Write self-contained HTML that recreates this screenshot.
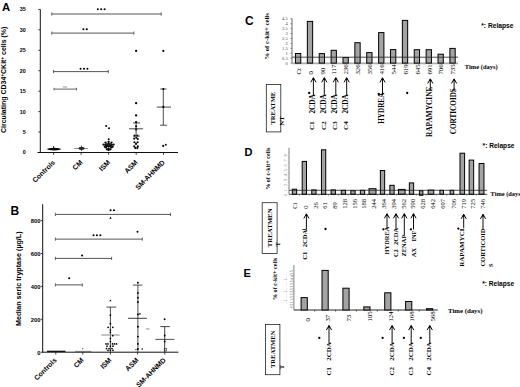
<!DOCTYPE html>
<html><head><meta charset="utf-8"><style>
html,body{margin:0;padding:0;background:#fff;width:520px;height:387px;overflow:hidden}
svg{display:block}
</style></head><body>
<svg width="520" height="387" viewBox="0 0 520 387">
<rect width="520" height="387" fill="#fff"/>
<text x="2.10" y="10.50" font-family='"Liberation Sans", sans-serif' font-size="11.3" font-weight="bold" text-anchor="start" fill="#000">A</text>
<line x1="40.30" y1="9.40" x2="40.30" y2="153.00" stroke="#111" stroke-width="1"/>
<line x1="37.50" y1="152.50" x2="178.00" y2="152.50" stroke="#111" stroke-width="1.2"/>
<line x1="38.30" y1="152.50" x2="40.30" y2="152.50" stroke="#111" stroke-width="0.8"/>
<text x="25.70" y="154.40" font-family='"Liberation Sans", sans-serif' font-size="5.4" font-weight="bold" text-anchor="end" fill="#000">0</text>
<line x1="38.30" y1="132.06" x2="40.30" y2="132.06" stroke="#111" stroke-width="0.8"/>
<text x="25.70" y="133.96" font-family='"Liberation Sans", sans-serif' font-size="5.4" font-weight="bold" text-anchor="end" fill="#000">5</text>
<line x1="38.30" y1="111.61" x2="40.30" y2="111.61" stroke="#111" stroke-width="0.8"/>
<text x="25.70" y="113.51" font-family='"Liberation Sans", sans-serif' font-size="5.4" font-weight="bold" text-anchor="end" fill="#000">10</text>
<line x1="38.30" y1="91.17" x2="40.30" y2="91.17" stroke="#111" stroke-width="0.8"/>
<text x="25.70" y="93.07" font-family='"Liberation Sans", sans-serif' font-size="5.4" font-weight="bold" text-anchor="end" fill="#000">15</text>
<line x1="38.30" y1="70.73" x2="40.30" y2="70.73" stroke="#111" stroke-width="0.8"/>
<text x="25.70" y="72.63" font-family='"Liberation Sans", sans-serif' font-size="5.4" font-weight="bold" text-anchor="end" fill="#000">20</text>
<line x1="38.30" y1="50.29" x2="40.30" y2="50.29" stroke="#111" stroke-width="0.8"/>
<text x="25.70" y="52.19" font-family='"Liberation Sans", sans-serif' font-size="5.4" font-weight="bold" text-anchor="end" fill="#000">25</text>
<line x1="38.30" y1="29.84" x2="40.30" y2="29.84" stroke="#111" stroke-width="0.8"/>
<text x="25.70" y="31.74" font-family='"Liberation Sans", sans-serif' font-size="5.4" font-weight="bold" text-anchor="end" fill="#000">30</text>
<line x1="38.30" y1="9.40" x2="40.30" y2="9.40" stroke="#111" stroke-width="0.8"/>
<text x="25.70" y="11.30" font-family='"Liberation Sans", sans-serif' font-size="5.4" font-weight="bold" text-anchor="end" fill="#000">35</text>
<line x1="53.60" y1="152.50" x2="53.60" y2="154.80" stroke="#111" stroke-width="0.8"/>
<line x1="81.10" y1="152.50" x2="81.10" y2="154.80" stroke="#111" stroke-width="0.8"/>
<line x1="108.60" y1="152.50" x2="108.60" y2="154.80" stroke="#111" stroke-width="0.8"/>
<line x1="136.20" y1="152.50" x2="136.20" y2="154.80" stroke="#111" stroke-width="0.8"/>
<line x1="163.50" y1="152.50" x2="163.50" y2="154.80" stroke="#111" stroke-width="0.8"/>
<text x="55.50" y="162.90" font-family='"Liberation Sans", sans-serif' font-size="6.95" font-weight="bold" text-anchor="end" fill="#000" transform="rotate(-45 55.50 162.90)">Controls</text>
<text x="83.00" y="162.90" font-family='"Liberation Sans", sans-serif' font-size="6.95" font-weight="bold" text-anchor="end" fill="#000" transform="rotate(-45 83.00 162.90)">CM</text>
<text x="110.50" y="162.90" font-family='"Liberation Sans", sans-serif' font-size="6.95" font-weight="bold" text-anchor="end" fill="#000" transform="rotate(-45 110.50 162.90)">ISM</text>
<text x="138.10" y="162.90" font-family='"Liberation Sans", sans-serif' font-size="6.95" font-weight="bold" text-anchor="end" fill="#000" transform="rotate(-45 138.10 162.90)">ASM</text>
<text x="165.40" y="162.90" font-family='"Liberation Sans", sans-serif' font-size="6.95" font-weight="bold" text-anchor="end" fill="#000" transform="rotate(-45 165.40 162.90)">SM-AHNMD</text>
<text x="6.40" y="133.00" font-family='"Liberation Sans", sans-serif' font-size="7.0" font-weight="bold" text-anchor="start" fill="#000" transform="rotate(-90 6.40 133.00)">Circulating CD34<tspan dy="-2" font-size="4.5">+</tspan><tspan dy="2">CKit</tspan><tspan dy="-2" font-size="4.5">+</tspan><tspan dy="2"> cells (%)</tspan></text>
<line x1="51.80" y1="14.00" x2="161.20" y2="14.00" stroke="#555" stroke-width="1.0"/>
<line x1="51.80" y1="12.40" x2="51.80" y2="15.60" stroke="#555" stroke-width="0.9"/>
<line x1="161.20" y1="12.40" x2="161.20" y2="15.60" stroke="#555" stroke-width="0.9"/>
<circle cx="97.80" cy="9.20" r="1.05" fill="#000"/>
<circle cx="101.20" cy="9.20" r="1.05" fill="#000"/>
<circle cx="104.60" cy="9.20" r="1.05" fill="#000"/>
<line x1="51.80" y1="33.10" x2="133.90" y2="33.10" stroke="#555" stroke-width="1.0"/>
<line x1="51.80" y1="31.50" x2="51.80" y2="34.70" stroke="#555" stroke-width="0.9"/>
<line x1="133.90" y1="31.50" x2="133.90" y2="34.70" stroke="#555" stroke-width="0.9"/>
<circle cx="83.40" cy="29.20" r="1.05" fill="#000"/>
<circle cx="86.80" cy="29.20" r="1.05" fill="#000"/>
<line x1="53.50" y1="71.60" x2="108.30" y2="71.60" stroke="#555" stroke-width="1.0"/>
<line x1="53.50" y1="70.00" x2="53.50" y2="73.20" stroke="#555" stroke-width="0.9"/>
<line x1="108.30" y1="70.00" x2="108.30" y2="73.20" stroke="#555" stroke-width="0.9"/>
<circle cx="80.60" cy="68.70" r="1.05" fill="#000"/>
<circle cx="84.00" cy="68.70" r="1.05" fill="#000"/>
<circle cx="87.40" cy="68.70" r="1.05" fill="#000"/>
<line x1="54.00" y1="89.10" x2="76.50" y2="89.10" stroke="#555" stroke-width="0.9"/>
<line x1="54.00" y1="87.80" x2="54.00" y2="90.40" stroke="#555" stroke-width="0.9"/>
<line x1="76.50" y1="87.80" x2="76.50" y2="90.40" stroke="#555" stroke-width="0.9"/>
<text x="65.00" y="88.20" font-family='"Liberation Sans", sans-serif' font-size="3.6" font-weight="normal" text-anchor="middle" fill="#666">ns</text>
<ellipse cx="54" cy="149.1" rx="7.0" ry="1.35" fill="#000"/>
<line x1="53.60" y1="146.00" x2="53.60" y2="150.00" stroke="#000" stroke-width="0.9"/>
<line x1="74.00" y1="148.50" x2="87.90" y2="148.50" stroke="#777" stroke-width="0.8"/>
<ellipse cx="81.5" cy="148.3" rx="3" ry="1.6" fill="#222"/>
<line x1="81.50" y1="145.60" x2="81.50" y2="151.00" stroke="#333" stroke-width="0.8"/>
<circle cx="106.20" cy="126.00" r="1.0" fill="#000"/>
<circle cx="109.00" cy="128.20" r="1.0" fill="#000"/>
<circle cx="108.70" cy="139.30" r="1.0" fill="#000"/>
<ellipse cx="108.6" cy="145.0" rx="4.2" ry="2.0" fill="#111"/>
<circle cx="103.60" cy="144.60" r="1.15" fill="#000"/>
<circle cx="113.60" cy="144.60" r="1.15" fill="#000"/>
<circle cx="105.50" cy="142.60" r="1.15" fill="#000"/>
<circle cx="111.50" cy="142.60" r="1.15" fill="#000"/>
<circle cx="108.60" cy="142.00" r="1.15" fill="#000"/>
<circle cx="106.00" cy="147.40" r="1.15" fill="#000"/>
<circle cx="111.20" cy="147.40" r="1.15" fill="#000"/>
<circle cx="108.60" cy="148.40" r="1.15" fill="#000"/>
<circle cx="104.80" cy="146.80" r="1.15" fill="#000"/>
<circle cx="112.60" cy="146.80" r="1.15" fill="#000"/>
<circle cx="108.60" cy="150.00" r="1.15" fill="#000"/>
<circle cx="107.00" cy="149.30" r="1.15" fill="#000"/>
<circle cx="110.40" cy="149.30" r="1.15" fill="#000"/>
<line x1="102.60" y1="144.60" x2="114.20" y2="144.60" stroke="#222" stroke-width="0.8"/>
<circle cx="136.10" cy="50.90" r="1.15" fill="#000"/>
<circle cx="136.10" cy="103.20" r="1.15" fill="#000"/>
<circle cx="136.10" cy="115.40" r="1.15" fill="#000"/>
<circle cx="136.10" cy="122.20" r="1.15" fill="#000"/>
<circle cx="136.10" cy="126.30" r="1.15" fill="#000"/>
<circle cx="136.10" cy="129.40" r="1.15" fill="#000"/>
<circle cx="134.60" cy="135.60" r="1.05" fill="#000"/>
<circle cx="137.40" cy="135.60" r="1.05" fill="#000"/>
<circle cx="136.30" cy="137.80" r="1.05" fill="#000"/>
<circle cx="134.20" cy="138.60" r="1.05" fill="#000"/>
<circle cx="137.80" cy="139.00" r="1.05" fill="#000"/>
<circle cx="134.40" cy="142.20" r="1.05" fill="#000"/>
<circle cx="137.60" cy="142.20" r="1.05" fill="#000"/>
<circle cx="136.00" cy="143.90" r="1.05" fill="#000"/>
<circle cx="134.30" cy="146.40" r="1.05" fill="#000"/>
<circle cx="137.80" cy="146.40" r="1.05" fill="#000"/>
<circle cx="135.30" cy="148.10" r="1.05" fill="#000"/>
<circle cx="137.30" cy="148.10" r="1.05" fill="#000"/>
<line x1="129.10" y1="128.80" x2="143.10" y2="128.80" stroke="#222" stroke-width="0.85"/>
<line x1="136.10" y1="122.90" x2="136.10" y2="136.10" stroke="#222" stroke-width="0.8"/>
<line x1="133.00" y1="122.90" x2="140.00" y2="122.90" stroke="#222" stroke-width="0.8"/>
<line x1="133.00" y1="136.10" x2="140.00" y2="136.10" stroke="#222" stroke-width="0.8"/>
<circle cx="163.30" cy="50.90" r="1.1" fill="#000"/>
<line x1="163.30" y1="89.00" x2="163.30" y2="125.20" stroke="#222" stroke-width="0.8"/>
<line x1="160.30" y1="89.00" x2="166.50" y2="89.00" stroke="#222" stroke-width="0.8"/>
<line x1="160.10" y1="125.20" x2="167.10" y2="125.20" stroke="#222" stroke-width="0.8"/>
<line x1="156.70" y1="107.10" x2="171.00" y2="107.10" stroke="#222" stroke-width="0.8"/>
<circle cx="163.30" cy="106.90" r="1.1" fill="#000"/>
<circle cx="163.30" cy="89.00" r="1.0" fill="#000"/>
<circle cx="163.20" cy="145.90" r="1.05" fill="#000"/>
<circle cx="165.80" cy="144.80" r="0.95" fill="#000"/>
<text x="10.40" y="214.80" font-family='"Liberation Sans", sans-serif' font-size="12" font-weight="bold" text-anchor="start" fill="#000">B</text>
<line x1="42.70" y1="204.20" x2="42.70" y2="352.70" stroke="#111" stroke-width="1"/>
<line x1="42.20" y1="352.20" x2="178.40" y2="352.20" stroke="#111" stroke-width="1"/>
<line x1="40.70" y1="352.20" x2="42.70" y2="352.20" stroke="#111" stroke-width="0.8"/>
<text x="40.50" y="354.50" font-family='"Liberation Sans", sans-serif' font-size="5.8" font-weight="bold" text-anchor="end" fill="#000">0</text>
<line x1="40.70" y1="319.30" x2="42.70" y2="319.30" stroke="#111" stroke-width="0.8"/>
<text x="40.50" y="321.60" font-family='"Liberation Sans", sans-serif' font-size="5.8" font-weight="bold" text-anchor="end" fill="#000">200</text>
<line x1="40.70" y1="286.40" x2="42.70" y2="286.40" stroke="#111" stroke-width="0.8"/>
<text x="40.50" y="288.70" font-family='"Liberation Sans", sans-serif' font-size="5.8" font-weight="bold" text-anchor="end" fill="#000">400</text>
<line x1="40.70" y1="253.50" x2="42.70" y2="253.50" stroke="#111" stroke-width="0.8"/>
<text x="40.50" y="255.80" font-family='"Liberation Sans", sans-serif' font-size="5.8" font-weight="bold" text-anchor="end" fill="#000">600</text>
<line x1="40.70" y1="220.60" x2="42.70" y2="220.60" stroke="#111" stroke-width="0.8"/>
<text x="40.50" y="222.90" font-family='"Liberation Sans", sans-serif' font-size="5.8" font-weight="bold" text-anchor="end" fill="#000">800</text>
<line x1="55.80" y1="352.20" x2="55.80" y2="354.50" stroke="#111" stroke-width="0.8"/>
<line x1="82.80" y1="352.20" x2="82.80" y2="354.50" stroke="#111" stroke-width="0.8"/>
<line x1="110.50" y1="352.20" x2="110.50" y2="354.50" stroke="#111" stroke-width="0.8"/>
<line x1="137.60" y1="352.20" x2="137.60" y2="354.50" stroke="#111" stroke-width="0.8"/>
<line x1="164.80" y1="352.20" x2="164.80" y2="354.50" stroke="#111" stroke-width="0.8"/>
<text x="57.20" y="360.60" font-family='"Liberation Sans", sans-serif' font-size="6.95" font-weight="bold" text-anchor="end" fill="#000" transform="rotate(-45 57.20 360.60)">Controls</text>
<text x="84.20" y="360.60" font-family='"Liberation Sans", sans-serif' font-size="6.95" font-weight="bold" text-anchor="end" fill="#000" transform="rotate(-45 84.20 360.60)">CM</text>
<text x="111.90" y="360.60" font-family='"Liberation Sans", sans-serif' font-size="6.95" font-weight="bold" text-anchor="end" fill="#000" transform="rotate(-45 111.90 360.60)">ISM</text>
<text x="139.00" y="360.60" font-family='"Liberation Sans", sans-serif' font-size="6.95" font-weight="bold" text-anchor="end" fill="#000" transform="rotate(-45 139.00 360.60)">ASM</text>
<text x="166.20" y="360.60" font-family='"Liberation Sans", sans-serif' font-size="6.95" font-weight="bold" text-anchor="end" fill="#000" transform="rotate(-45 166.20 360.60)">SM-AHNMD</text>
<text x="21.30" y="326.00" font-family='"Liberation Sans", sans-serif' font-size="7.15" font-weight="bold" text-anchor="start" fill="#000" transform="rotate(-90 21.30 326.00)">Median seric tryptase (µg/L)</text>
<line x1="55.40" y1="214.40" x2="170.50" y2="214.40" stroke="#555" stroke-width="1.0"/>
<line x1="55.40" y1="212.80" x2="55.40" y2="216.00" stroke="#555" stroke-width="0.9"/>
<line x1="170.50" y1="212.80" x2="170.50" y2="216.00" stroke="#555" stroke-width="0.9"/>
<circle cx="110.55" cy="210.30" r="1.05" fill="#000"/>
<circle cx="113.95" cy="210.30" r="1.05" fill="#000"/>
<line x1="55.40" y1="239.10" x2="142.30" y2="239.10" stroke="#555" stroke-width="1.0"/>
<line x1="55.40" y1="237.50" x2="55.40" y2="240.70" stroke="#555" stroke-width="0.9"/>
<line x1="142.30" y1="237.50" x2="142.30" y2="240.70" stroke="#555" stroke-width="0.9"/>
<circle cx="93.55" cy="235.20" r="1.05" fill="#000"/>
<circle cx="96.95" cy="235.20" r="1.05" fill="#000"/>
<circle cx="100.35" cy="235.20" r="1.05" fill="#000"/>
<line x1="55.40" y1="258.40" x2="111.60" y2="258.40" stroke="#555" stroke-width="1.0"/>
<line x1="55.40" y1="256.80" x2="55.40" y2="260.00" stroke="#555" stroke-width="0.9"/>
<line x1="111.60" y1="256.80" x2="111.60" y2="260.00" stroke="#555" stroke-width="0.9"/>
<circle cx="82.10" cy="255.50" r="1.05" fill="#000"/>
<line x1="55.40" y1="284.90" x2="82.30" y2="284.90" stroke="#555" stroke-width="1.0"/>
<line x1="55.40" y1="283.30" x2="55.40" y2="286.50" stroke="#555" stroke-width="0.9"/>
<line x1="82.30" y1="283.30" x2="82.30" y2="286.50" stroke="#555" stroke-width="0.9"/>
<circle cx="69.20" cy="278.20" r="1.05" fill="#000"/>
<path d="M109.4,218.7 L110.5,216.6 L111.6,218.7 Z" fill="#000"/>
<circle cx="137.50" cy="231.80" r="1.0" fill="#000"/>
<line x1="47.00" y1="351.30" x2="65.40" y2="351.30" stroke="#000" stroke-width="1.2"/>
<line x1="75.00" y1="351.40" x2="91.30" y2="351.40" stroke="#666" stroke-width="0.9"/>
<circle cx="82.70" cy="348.80" r="0.7" fill="#666"/>
<path d="M109.30,301.3 L110.40,299.4 L111.50,301.3 Z" fill="#000"/>
<line x1="110.40" y1="307.10" x2="110.40" y2="352.00" stroke="#222" stroke-width="0.8"/>
<line x1="106.50" y1="307.10" x2="116.30" y2="307.10" stroke="#222" stroke-width="0.8"/>
<line x1="101.40" y1="335.00" x2="119.70" y2="335.00" stroke="#888" stroke-width="1.0"/>
<circle cx="110.40" cy="315.20" r="0.85" fill="#000"/>
<circle cx="110.40" cy="323.70" r="0.85" fill="#000"/>
<circle cx="108.10" cy="327.30" r="0.85" fill="#000"/>
<circle cx="112.80" cy="327.30" r="0.85" fill="#000"/>
<circle cx="110.40" cy="330.00" r="0.85" fill="#000"/>
<circle cx="110.40" cy="332.30" r="0.85" fill="#000"/>
<circle cx="112.80" cy="335.70" r="0.85" fill="#000"/>
<circle cx="110.40" cy="338.50" r="0.85" fill="#000"/>
<circle cx="110.40" cy="341.60" r="0.85" fill="#000"/>
<circle cx="106.00" cy="343.90" r="0.85" fill="#000"/>
<circle cx="108.00" cy="343.90" r="0.85" fill="#000"/>
<circle cx="112.50" cy="343.90" r="0.85" fill="#000"/>
<circle cx="114.50" cy="343.90" r="0.85" fill="#000"/>
<circle cx="116.50" cy="343.90" r="0.85" fill="#000"/>
<circle cx="107.00" cy="346.20" r="0.85" fill="#000"/>
<circle cx="110.40" cy="346.20" r="0.85" fill="#000"/>
<circle cx="113.00" cy="346.20" r="0.85" fill="#000"/>
<circle cx="106.50" cy="348.60" r="0.85" fill="#000"/>
<circle cx="109.00" cy="348.60" r="0.85" fill="#000"/>
<circle cx="112.00" cy="348.60" r="0.85" fill="#000"/>
<circle cx="108.00" cy="350.30" r="0.85" fill="#000"/>
<circle cx="110.40" cy="350.30" r="0.85" fill="#000"/>
<circle cx="113.00" cy="350.30" r="0.85" fill="#000"/>
<line x1="137.90" y1="285.10" x2="137.90" y2="352.00" stroke="#222" stroke-width="0.8"/>
<line x1="132.90" y1="285.10" x2="142.30" y2="285.10" stroke="#222" stroke-width="0.8"/>
<line x1="128.00" y1="318.30" x2="146.90" y2="318.30" stroke="#222" stroke-width="0.9"/>
<circle cx="137.90" cy="282.70" r="0.95" fill="#000"/>
<circle cx="137.90" cy="292.90" r="0.95" fill="#000"/>
<circle cx="137.90" cy="297.80" r="0.95" fill="#000"/>
<circle cx="137.90" cy="302.00" r="0.95" fill="#000"/>
<circle cx="137.90" cy="314.40" r="0.95" fill="#000"/>
<circle cx="137.90" cy="326.80" r="0.95" fill="#000"/>
<circle cx="137.90" cy="336.60" r="0.95" fill="#000"/>
<circle cx="137.90" cy="343.90" r="0.95" fill="#000"/>
<circle cx="137.90" cy="349.00" r="0.95" fill="#000"/>
<circle cx="139.90" cy="313.90" r="0.8" fill="#000"/>
<circle cx="136.00" cy="349.60" r="0.7" fill="#000"/>
<circle cx="142.30" cy="349.00" r="0.8" fill="#000"/>
<text x="147.70" y="329.60" font-family='"Liberation Sans", sans-serif' font-size="3.4" font-weight="normal" text-anchor="middle" fill="#666">ns</text>
<circle cx="164.60" cy="319.30" r="0.95" fill="#000"/>
<line x1="164.70" y1="326.60" x2="164.70" y2="352.00" stroke="#222" stroke-width="0.85"/>
<line x1="160.30" y1="326.60" x2="169.80" y2="326.60" stroke="#222" stroke-width="0.85"/>
<line x1="155.40" y1="339.40" x2="174.40" y2="339.40" stroke="#333" stroke-width="0.85"/>
<circle cx="164.70" cy="335.50" r="0.9" fill="#000"/>
<circle cx="164.70" cy="341.50" r="0.9" fill="#000"/>
<rect x="164.2" y="348.6" width="2.2" height="2.4" fill="none" stroke="#222" stroke-width="0.6"/>
<text x="245.10" y="25.30" font-family='"Liberation Sans", sans-serif' font-size="11.9" font-weight="bold" text-anchor="start" fill="#000">C</text>
<line x1="292.00" y1="18.50" x2="292.00" y2="63.10" stroke="#444" stroke-width="0.8"/>
<line x1="290.50" y1="63.10" x2="292.00" y2="63.10" stroke="#444" stroke-width="0.6"/>
<text x="287.60" y="64.60" font-family='"Liberation Serif", serif' font-size="4.4" font-weight="normal" text-anchor="end" fill="#444">0</text>
<line x1="290.50" y1="58.18" x2="292.00" y2="58.18" stroke="#444" stroke-width="0.6"/>
<text x="287.60" y="59.68" font-family='"Liberation Serif", serif' font-size="4.4" font-weight="normal" text-anchor="end" fill="#444">0.5</text>
<line x1="290.50" y1="53.26" x2="292.00" y2="53.26" stroke="#444" stroke-width="0.6"/>
<text x="287.60" y="54.76" font-family='"Liberation Serif", serif' font-size="4.4" font-weight="normal" text-anchor="end" fill="#444">1</text>
<line x1="290.50" y1="48.34" x2="292.00" y2="48.34" stroke="#444" stroke-width="0.6"/>
<text x="287.60" y="49.84" font-family='"Liberation Serif", serif' font-size="4.4" font-weight="normal" text-anchor="end" fill="#444">1.5</text>
<line x1="290.50" y1="43.42" x2="292.00" y2="43.42" stroke="#444" stroke-width="0.6"/>
<text x="287.60" y="44.92" font-family='"Liberation Serif", serif' font-size="4.4" font-weight="normal" text-anchor="end" fill="#444">2</text>
<line x1="290.50" y1="38.50" x2="292.00" y2="38.50" stroke="#444" stroke-width="0.6"/>
<text x="287.60" y="40.00" font-family='"Liberation Serif", serif' font-size="4.4" font-weight="normal" text-anchor="end" fill="#444">2.5</text>
<line x1="290.50" y1="33.58" x2="292.00" y2="33.58" stroke="#444" stroke-width="0.6"/>
<text x="287.60" y="35.08" font-family='"Liberation Serif", serif' font-size="4.4" font-weight="normal" text-anchor="end" fill="#444">3</text>
<line x1="290.50" y1="28.66" x2="292.00" y2="28.66" stroke="#444" stroke-width="0.6"/>
<text x="287.60" y="30.16" font-family='"Liberation Serif", serif' font-size="4.4" font-weight="normal" text-anchor="end" fill="#444">3.5</text>
<line x1="290.50" y1="23.74" x2="292.00" y2="23.74" stroke="#444" stroke-width="0.6"/>
<text x="287.60" y="25.24" font-family='"Liberation Serif", serif' font-size="4.4" font-weight="normal" text-anchor="end" fill="#444">4</text>
<line x1="290.50" y1="18.82" x2="292.00" y2="18.82" stroke="#444" stroke-width="0.6"/>
<text x="287.60" y="20.32" font-family='"Liberation Serif", serif' font-size="4.4" font-weight="normal" text-anchor="end" fill="#444">4.5</text>
<text x="268.68" y="59.60" font-family='"Liberation Serif", serif' font-size="6.7" font-weight="bold" text-anchor="start" fill="#000" transform="rotate(-90 268.68 59.60)">% of c-kit+ cells</text>
<line x1="292.00" y1="63.40" x2="458.00" y2="63.40" stroke="#aaa" stroke-width="1.8"/>
<rect x="295.45" y="53.50" width="5.30" height="9.60" fill="#a3a3a3" stroke="#000" stroke-width="1"/>
<text x="300.85" y="74.60" font-family='"Liberation Serif", serif' font-size="6.9" font-weight="normal" text-anchor="start" fill="#000" transform="rotate(-90 300.85 74.60)">Ct</text>
<rect x="307.33" y="21.40" width="5.30" height="41.70" fill="#a3a3a3" stroke="#000" stroke-width="1"/>
<text x="312.73" y="74.60" font-family='"Liberation Serif", serif' font-size="6.9" font-weight="normal" text-anchor="start" fill="#000" transform="rotate(-90 312.73 74.60)">0</text>
<rect x="319.21" y="53.60" width="5.30" height="9.50" fill="#a3a3a3" stroke="#000" stroke-width="1"/>
<text x="324.61" y="74.60" font-family='"Liberation Serif", serif' font-size="6.9" font-weight="normal" text-anchor="start" fill="#000" transform="rotate(-90 324.61 74.60)">90</text>
<rect x="331.09" y="50.30" width="5.30" height="12.80" fill="#a3a3a3" stroke="#000" stroke-width="1"/>
<text x="336.49" y="74.60" font-family='"Liberation Serif", serif' font-size="6.9" font-weight="normal" text-anchor="start" fill="#000" transform="rotate(-90 336.49 74.60)">117</text>
<rect x="342.97" y="57.50" width="5.30" height="5.60" fill="#a3a3a3" stroke="#000" stroke-width="1"/>
<text x="348.37" y="74.60" font-family='"Liberation Serif", serif' font-size="6.9" font-weight="normal" text-anchor="start" fill="#000" transform="rotate(-90 348.37 74.60)">236</text>
<rect x="354.85" y="42.70" width="5.30" height="20.40" fill="#a3a3a3" stroke="#000" stroke-width="1"/>
<text x="360.25" y="74.60" font-family='"Liberation Serif", serif' font-size="6.9" font-weight="normal" text-anchor="start" fill="#000" transform="rotate(-90 360.25 74.60)">326</text>
<rect x="366.73" y="52.60" width="5.30" height="10.50" fill="#a3a3a3" stroke="#000" stroke-width="1"/>
<text x="372.13" y="74.60" font-family='"Liberation Serif", serif' font-size="6.9" font-weight="normal" text-anchor="start" fill="#000" transform="rotate(-90 372.13 74.60)">356</text>
<rect x="378.61" y="32.60" width="5.30" height="30.50" fill="#a3a3a3" stroke="#000" stroke-width="1"/>
<text x="384.01" y="74.60" font-family='"Liberation Serif", serif' font-size="6.9" font-weight="normal" text-anchor="start" fill="#000" transform="rotate(-90 384.01 74.60)">416</text>
<rect x="390.49" y="49.60" width="5.30" height="13.50" fill="#a3a3a3" stroke="#000" stroke-width="1"/>
<text x="395.89" y="74.60" font-family='"Liberation Serif", serif' font-size="6.9" font-weight="normal" text-anchor="start" fill="#000" transform="rotate(-90 395.89 74.60)">544</text>
<rect x="402.37" y="20.40" width="5.30" height="42.70" fill="#a3a3a3" stroke="#000" stroke-width="1"/>
<text x="407.77" y="74.60" font-family='"Liberation Serif", serif' font-size="6.9" font-weight="normal" text-anchor="start" fill="#000" transform="rotate(-90 407.77 74.60)">619</text>
<rect x="414.25" y="49.70" width="5.30" height="13.40" fill="#a3a3a3" stroke="#000" stroke-width="1"/>
<text x="419.65" y="74.60" font-family='"Liberation Serif", serif' font-size="6.9" font-weight="normal" text-anchor="start" fill="#000" transform="rotate(-90 419.65 74.60)">645</text>
<rect x="426.13" y="49.70" width="5.30" height="13.40" fill="#a3a3a3" stroke="#000" stroke-width="1"/>
<text x="431.53" y="74.60" font-family='"Liberation Serif", serif' font-size="6.9" font-weight="normal" text-anchor="start" fill="#000" transform="rotate(-90 431.53 74.60)">691</text>
<rect x="438.01" y="54.20" width="5.30" height="8.90" fill="#a3a3a3" stroke="#000" stroke-width="1"/>
<text x="443.41" y="74.60" font-family='"Liberation Serif", serif' font-size="6.9" font-weight="normal" text-anchor="start" fill="#000" transform="rotate(-90 443.41 74.60)">706</text>
<rect x="449.89" y="48.40" width="5.30" height="14.70" fill="#a3a3a3" stroke="#000" stroke-width="1"/>
<text x="455.29" y="74.60" font-family='"Liberation Serif", serif' font-size="6.9" font-weight="normal" text-anchor="start" fill="#000" transform="rotate(-90 455.29 74.60)">735</text>
<line x1="292.00" y1="57.20" x2="458.00" y2="57.20" stroke="#222" stroke-width="0.8"/>
<text x="464.80" y="69.00" font-family='"Liberation Serif", serif' font-size="6.5" font-weight="bold" text-anchor="start" fill="#000">Time (days)</text>
<text x="481.20" y="28.00" font-family='"Liberation Sans", sans-serif' font-size="6.7" font-weight="bold" text-anchor="start" fill="#000">*: Relapse</text>
<rect x="266.30" y="84.40" width="14.50" height="47.50" fill="#fff" stroke="#222" stroke-width="0.8"/>
<text x="275.44" y="124.60" font-family='"Liberation Serif", serif' font-size="6.6" font-weight="bold" text-anchor="start" fill="#000" transform="rotate(-90 275.44 124.60)">TREATME</text>
<text x="284.18" y="125.80" font-family='"Liberation Serif", serif' font-size="7.0" font-weight="bold" text-anchor="start" fill="#000" transform="rotate(-90 284.18 125.80)">NT</text>
<line x1="313.40" y1="78.20" x2="313.40" y2="95.50" stroke="#000" stroke-width="0.95"/>
<path d="M310.80,82.30 L313.40,77.70 L316.00,82.30" fill="none" stroke="#000" stroke-width="1.0" stroke-linejoin="miter"/>
<path d="M312.20,79.80 L313.40,77.20 L314.60,79.80 Z" fill="#000"/>
<line x1="324.30" y1="78.20" x2="324.30" y2="95.50" stroke="#000" stroke-width="0.95"/>
<path d="M321.70,82.30 L324.30,77.70 L326.90,82.30" fill="none" stroke="#000" stroke-width="1.0" stroke-linejoin="miter"/>
<path d="M323.10,79.80 L324.30,77.20 L325.50,79.80 Z" fill="#000"/>
<line x1="335.80" y1="78.20" x2="335.80" y2="95.50" stroke="#000" stroke-width="0.95"/>
<path d="M333.20,82.30 L335.80,77.70 L338.40,82.30" fill="none" stroke="#000" stroke-width="1.0" stroke-linejoin="miter"/>
<path d="M334.60,79.80 L335.80,77.20 L337.00,79.80 Z" fill="#000"/>
<line x1="346.70" y1="78.20" x2="346.70" y2="95.50" stroke="#000" stroke-width="0.95"/>
<path d="M344.10,82.30 L346.70,77.70 L349.30,82.30" fill="none" stroke="#000" stroke-width="1.0" stroke-linejoin="miter"/>
<path d="M345.50,79.80 L346.70,77.20 L347.90,79.80 Z" fill="#000"/>
<text x="314.58" y="113.60" font-family='"Liberation Serif", serif' font-size="7.3" font-weight="bold" text-anchor="start" fill="#000" transform="rotate(-90 314.58 113.60)">2CDA</text>
<text x="314.48" y="129.90" font-family='"Liberation Serif", serif' font-size="7.0" font-weight="bold" text-anchor="start" fill="#000" transform="rotate(-90 314.48 129.90)">C1</text>
<text x="325.68" y="113.60" font-family='"Liberation Serif", serif' font-size="7.3" font-weight="bold" text-anchor="start" fill="#000" transform="rotate(-90 325.68 113.60)">2CDA</text>
<text x="325.58" y="129.90" font-family='"Liberation Serif", serif' font-size="7.0" font-weight="bold" text-anchor="start" fill="#000" transform="rotate(-90 325.58 129.90)">C2</text>
<text x="337.28" y="113.60" font-family='"Liberation Serif", serif' font-size="7.3" font-weight="bold" text-anchor="start" fill="#000" transform="rotate(-90 337.28 113.60)">2CDA</text>
<text x="337.18" y="129.90" font-family='"Liberation Serif", serif' font-size="7.0" font-weight="bold" text-anchor="start" fill="#000" transform="rotate(-90 337.18 129.90)">C3</text>
<text x="348.18" y="113.60" font-family='"Liberation Serif", serif' font-size="7.3" font-weight="bold" text-anchor="start" fill="#000" transform="rotate(-90 348.18 113.60)">2CDA</text>
<text x="348.08" y="129.90" font-family='"Liberation Serif", serif' font-size="7.0" font-weight="bold" text-anchor="start" fill="#000" transform="rotate(-90 348.08 129.90)">C4</text>
<line x1="382.50" y1="78.30" x2="382.50" y2="95.50" stroke="#000" stroke-width="0.95"/>
<path d="M379.90,82.40 L382.50,77.80 L385.10,82.40" fill="none" stroke="#000" stroke-width="1.0" stroke-linejoin="miter"/>
<path d="M381.30,79.90 L382.50,77.30 L383.70,79.90 Z" fill="#000"/>
<text x="383.95" y="123.80" font-family='"Liberation Serif", serif' font-size="7.2" font-weight="bold" text-anchor="start" fill="#000" transform="rotate(-90 383.95 123.80)">HYDREA</text>
<line x1="430.30" y1="79.40" x2="430.30" y2="90.00" stroke="#000" stroke-width="0.95"/>
<path d="M427.70,83.50 L430.30,78.90 L432.90,83.50" fill="none" stroke="#000" stroke-width="1.0" stroke-linejoin="miter"/>
<path d="M429.10,81.00 L430.30,78.40 L431.50,81.00 Z" fill="#000"/>
<text x="432.20" y="137.10" font-family='"Liberation Serif", serif' font-size="7.35" font-weight="bold" text-anchor="start" fill="#000" transform="rotate(-90 432.20 137.10)">RAPAMYCINE</text>
<line x1="454.10" y1="79.40" x2="454.10" y2="91.00" stroke="#000" stroke-width="0.95"/>
<path d="M451.50,83.50 L454.10,78.90 L456.70,83.50" fill="none" stroke="#000" stroke-width="1.0" stroke-linejoin="miter"/>
<path d="M452.90,81.00 L454.10,78.40 L455.30,81.00 Z" fill="#000"/>
<text x="456.35" y="134.20" font-family='"Liberation Serif", serif' font-size="7.2" font-weight="bold" text-anchor="start" fill="#000" transform="rotate(-90 456.35 134.20)">CORTICOIDS</text>
<circle cx="309.20" cy="93.00" r="1.15" fill="#000"/>
<circle cx="378.70" cy="93.80" r="1.15" fill="#000"/>
<circle cx="407.20" cy="93.00" r="1.15" fill="#000"/>
<text x="244.60" y="156.10" font-family='"Liberation Sans", sans-serif' font-size="11" font-weight="bold" text-anchor="start" fill="#000">D</text>
<line x1="289.00" y1="147.70" x2="289.00" y2="194.30" stroke="#666" stroke-width="0.8"/>
<text x="287.30" y="196.10" font-family='"Liberation Serif", serif' font-size="4.4" font-weight="normal" text-anchor="start" fill="#777" transform="rotate(-90 287.30 196.10)">0</text>
<line x1="287.70" y1="192.50" x2="289.00" y2="192.50" stroke="#999" stroke-width="0.5"/>
<text x="287.30" y="191.15" font-family='"Liberation Serif", serif' font-size="4.4" font-weight="normal" text-anchor="start" fill="#777" transform="rotate(-90 287.30 191.15)">1</text>
<line x1="287.70" y1="187.55" x2="289.00" y2="187.55" stroke="#999" stroke-width="0.5"/>
<text x="287.30" y="186.20" font-family='"Liberation Serif", serif' font-size="4.4" font-weight="normal" text-anchor="start" fill="#777" transform="rotate(-90 287.30 186.20)">2</text>
<line x1="287.70" y1="182.60" x2="289.00" y2="182.60" stroke="#999" stroke-width="0.5"/>
<text x="287.30" y="181.25" font-family='"Liberation Serif", serif' font-size="4.4" font-weight="normal" text-anchor="start" fill="#777" transform="rotate(-90 287.30 181.25)">3</text>
<line x1="287.70" y1="177.65" x2="289.00" y2="177.65" stroke="#999" stroke-width="0.5"/>
<text x="287.30" y="176.30" font-family='"Liberation Serif", serif' font-size="4.4" font-weight="normal" text-anchor="start" fill="#777" transform="rotate(-90 287.30 176.30)">4</text>
<line x1="287.70" y1="172.70" x2="289.00" y2="172.70" stroke="#999" stroke-width="0.5"/>
<text x="287.30" y="171.35" font-family='"Liberation Serif", serif' font-size="4.4" font-weight="normal" text-anchor="start" fill="#777" transform="rotate(-90 287.30 171.35)">5</text>
<line x1="287.70" y1="167.75" x2="289.00" y2="167.75" stroke="#999" stroke-width="0.5"/>
<text x="287.30" y="166.40" font-family='"Liberation Serif", serif' font-size="4.4" font-weight="normal" text-anchor="start" fill="#777" transform="rotate(-90 287.30 166.40)">6</text>
<line x1="287.70" y1="162.80" x2="289.00" y2="162.80" stroke="#999" stroke-width="0.5"/>
<text x="287.30" y="161.45" font-family='"Liberation Serif", serif' font-size="4.4" font-weight="normal" text-anchor="start" fill="#777" transform="rotate(-90 287.30 161.45)">7</text>
<line x1="287.70" y1="157.85" x2="289.00" y2="157.85" stroke="#999" stroke-width="0.5"/>
<text x="287.30" y="156.50" font-family='"Liberation Serif", serif' font-size="4.4" font-weight="normal" text-anchor="start" fill="#777" transform="rotate(-90 287.30 156.50)">8</text>
<line x1="287.70" y1="152.90" x2="289.00" y2="152.90" stroke="#999" stroke-width="0.5"/>
<text x="269.57" y="189.80" font-family='"Liberation Serif", serif' font-size="6.1" font-weight="bold" text-anchor="start" fill="#000" transform="rotate(-90 269.57 189.80)">% of c-kit+ cells</text>
<rect x="292.35" y="189.20" width="4.30" height="5.10" fill="#a3a3a3" stroke="#000" stroke-width="1"/>
<text x="296.74" y="208.80" font-family='"Liberation Serif", serif' font-size="6.6" font-weight="normal" text-anchor="start" fill="#000" transform="rotate(-90 296.74 208.80)">Ct</text>
<rect x="302.20" y="161.40" width="4.30" height="32.90" fill="#a3a3a3" stroke="#000" stroke-width="1"/>
<text x="308.09" y="208.80" font-family='"Liberation Serif", serif' font-size="6.6" font-weight="normal" text-anchor="start" fill="#000" transform="rotate(-90 308.09 208.80)">0</text>
<rect x="311.75" y="189.90" width="4.30" height="4.40" fill="#a3a3a3" stroke="#000" stroke-width="1"/>
<text x="317.64" y="208.80" font-family='"Liberation Serif", serif' font-size="6.6" font-weight="normal" text-anchor="start" fill="#000" transform="rotate(-90 317.64 208.80)">26</text>
<rect x="321.45" y="149.80" width="4.30" height="44.50" fill="#a3a3a3" stroke="#000" stroke-width="1"/>
<text x="327.34" y="208.80" font-family='"Liberation Serif", serif' font-size="6.6" font-weight="normal" text-anchor="start" fill="#000" transform="rotate(-90 327.34 208.80)">61</text>
<rect x="331.10" y="189.90" width="4.30" height="4.40" fill="#a3a3a3" stroke="#000" stroke-width="1"/>
<text x="336.99" y="208.80" font-family='"Liberation Serif", serif' font-size="6.6" font-weight="normal" text-anchor="start" fill="#000" transform="rotate(-90 336.99 208.80)">89</text>
<rect x="341.25" y="190.30" width="4.30" height="4.00" fill="#a3a3a3" stroke="#000" stroke-width="1"/>
<text x="347.14" y="208.80" font-family='"Liberation Serif", serif' font-size="6.6" font-weight="normal" text-anchor="start" fill="#000" transform="rotate(-90 347.14 208.80)">128</text>
<rect x="350.85" y="190.70" width="4.30" height="3.60" fill="#a3a3a3" stroke="#000" stroke-width="1"/>
<text x="356.74" y="208.80" font-family='"Liberation Serif", serif' font-size="6.6" font-weight="normal" text-anchor="start" fill="#000" transform="rotate(-90 356.74 208.80)">156</text>
<rect x="360.35" y="190.30" width="4.30" height="4.00" fill="#a3a3a3" stroke="#000" stroke-width="1"/>
<text x="366.24" y="208.80" font-family='"Liberation Serif", serif' font-size="6.6" font-weight="normal" text-anchor="start" fill="#000" transform="rotate(-90 366.24 208.80)">188</text>
<rect x="369.00" y="188.70" width="7.00" height="5.60" fill="#a3a3a3" stroke="#000" stroke-width="1"/>
<text x="376.24" y="208.80" font-family='"Liberation Serif", serif' font-size="6.6" font-weight="normal" text-anchor="start" fill="#000" transform="rotate(-90 376.24 208.80)">244</text>
<rect x="380.35" y="170.50" width="4.30" height="23.80" fill="#a3a3a3" stroke="#000" stroke-width="1"/>
<text x="386.24" y="208.80" font-family='"Liberation Serif", serif' font-size="6.6" font-weight="normal" text-anchor="start" fill="#000" transform="rotate(-90 386.24 208.80)">364</text>
<rect x="389.85" y="185.30" width="4.30" height="9.00" fill="#a3a3a3" stroke="#000" stroke-width="1"/>
<text x="395.74" y="208.80" font-family='"Liberation Serif", serif' font-size="6.6" font-weight="normal" text-anchor="start" fill="#000" transform="rotate(-90 395.74 208.80)">394</text>
<rect x="398.50" y="189.40" width="6.60" height="4.90" fill="#a3a3a3" stroke="#000" stroke-width="1"/>
<text x="405.54" y="208.80" font-family='"Liberation Serif", serif' font-size="6.6" font-weight="normal" text-anchor="start" fill="#000" transform="rotate(-90 405.54 208.80)">562</text>
<rect x="409.35" y="182.90" width="4.30" height="11.40" fill="#a3a3a3" stroke="#000" stroke-width="1"/>
<text x="415.24" y="208.80" font-family='"Liberation Serif", serif' font-size="6.6" font-weight="normal" text-anchor="start" fill="#000" transform="rotate(-90 415.24 208.80)">590</text>
<rect x="419.45" y="190.70" width="3.40" height="4.60" fill="#a3a3a3" stroke="#000" stroke-width="1"/>
<text x="424.89" y="208.80" font-family='"Liberation Serif", serif' font-size="6.6" font-weight="normal" text-anchor="start" fill="#000" transform="rotate(-90 424.89 208.80)">628</text>
<rect x="428.15" y="190.10" width="5.60" height="4.20" fill="#a3a3a3" stroke="#000" stroke-width="1"/>
<text x="434.69" y="208.80" font-family='"Liberation Serif", serif' font-size="6.6" font-weight="normal" text-anchor="start" fill="#000" transform="rotate(-90 434.69 208.80)">642</text>
<rect x="439.90" y="190.30" width="3.60" height="4.00" fill="#a3a3a3" stroke="#000" stroke-width="1"/>
<text x="445.44" y="208.80" font-family='"Liberation Serif", serif' font-size="6.6" font-weight="normal" text-anchor="start" fill="#000" transform="rotate(-90 445.44 208.80)">697</text>
<rect x="450.10" y="190.30" width="3.60" height="4.00" fill="#a3a3a3" stroke="#000" stroke-width="1"/>
<text x="455.64" y="208.80" font-family='"Liberation Serif", serif' font-size="6.6" font-weight="normal" text-anchor="start" fill="#000" transform="rotate(-90 455.64 208.80)">706</text>
<rect x="460.00" y="153.20" width="4.60" height="41.10" fill="#a3a3a3" stroke="#000" stroke-width="1"/>
<text x="466.04" y="208.80" font-family='"Liberation Serif", serif' font-size="6.6" font-weight="normal" text-anchor="start" fill="#000" transform="rotate(-90 466.04 208.80)">719</text>
<rect x="469.15" y="160.10" width="4.50" height="34.20" fill="#a3a3a3" stroke="#000" stroke-width="1"/>
<text x="475.14" y="208.80" font-family='"Liberation Serif", serif' font-size="6.6" font-weight="normal" text-anchor="start" fill="#000" transform="rotate(-90 475.14 208.80)">725</text>
<rect x="479.05" y="163.50" width="4.90" height="30.80" fill="#a3a3a3" stroke="#000" stroke-width="1"/>
<text x="485.24" y="208.80" font-family='"Liberation Serif", serif' font-size="6.6" font-weight="normal" text-anchor="start" fill="#000" transform="rotate(-90 485.24 208.80)">746</text>
<line x1="289.00" y1="190.30" x2="487.20" y2="190.30" stroke="#222" stroke-width="0.8"/>
<line x1="299.43" y1="194.30" x2="299.43" y2="195.90" stroke="#888" stroke-width="0.6"/>
<line x1="309.12" y1="194.30" x2="309.12" y2="195.90" stroke="#888" stroke-width="0.6"/>
<line x1="318.75" y1="194.30" x2="318.75" y2="195.90" stroke="#888" stroke-width="0.6"/>
<line x1="328.43" y1="194.30" x2="328.43" y2="195.90" stroke="#888" stroke-width="0.6"/>
<line x1="338.32" y1="194.30" x2="338.32" y2="195.90" stroke="#888" stroke-width="0.6"/>
<line x1="348.20" y1="194.30" x2="348.20" y2="195.90" stroke="#888" stroke-width="0.6"/>
<line x1="357.75" y1="194.30" x2="357.75" y2="195.90" stroke="#888" stroke-width="0.6"/>
<line x1="367.50" y1="194.30" x2="367.50" y2="195.90" stroke="#888" stroke-width="0.6"/>
<line x1="377.50" y1="194.30" x2="377.50" y2="195.90" stroke="#888" stroke-width="0.6"/>
<line x1="387.25" y1="194.30" x2="387.25" y2="195.90" stroke="#888" stroke-width="0.6"/>
<line x1="396.90" y1="194.30" x2="396.90" y2="195.90" stroke="#888" stroke-width="0.6"/>
<line x1="406.65" y1="194.30" x2="406.65" y2="195.90" stroke="#888" stroke-width="0.6"/>
<line x1="416.32" y1="194.30" x2="416.32" y2="195.90" stroke="#888" stroke-width="0.6"/>
<line x1="426.05" y1="194.30" x2="426.05" y2="195.90" stroke="#888" stroke-width="0.6"/>
<line x1="436.32" y1="194.30" x2="436.32" y2="195.90" stroke="#888" stroke-width="0.6"/>
<line x1="446.80" y1="194.30" x2="446.80" y2="195.90" stroke="#888" stroke-width="0.6"/>
<line x1="457.10" y1="194.30" x2="457.10" y2="195.90" stroke="#888" stroke-width="0.6"/>
<line x1="466.85" y1="194.30" x2="466.85" y2="195.90" stroke="#888" stroke-width="0.6"/>
<line x1="476.45" y1="194.30" x2="476.45" y2="195.90" stroke="#888" stroke-width="0.6"/>
<line x1="289.00" y1="194.30" x2="487.20" y2="194.30" stroke="#111" stroke-width="0.8"/>
<text x="490.60" y="196.30" font-family='"Liberation Serif", serif' font-size="6.35" font-weight="bold" text-anchor="start" fill="#000">Time (days)</text>
<text x="482.60" y="148.00" font-family='"Liberation Sans", sans-serif' font-size="6.6" font-weight="bold" text-anchor="start" fill="#000">*: Relapse</text>
<rect x="262.20" y="202.70" width="14.90" height="50.70" fill="#fff" stroke="#222" stroke-width="0.8"/>
<text x="272.01" y="247.20" font-family='"Liberation Serif", serif' font-size="6.8" font-weight="bold" text-anchor="start" fill="#000" transform="rotate(-90 272.01 247.20)">TREATMEN</text>
<text x="280.38" y="246.40" font-family='"Liberation Serif", serif' font-size="7.0" font-weight="bold" text-anchor="start" fill="#000" transform="rotate(-90 280.38 246.40)">T</text>
<line x1="306.40" y1="214.40" x2="306.40" y2="229.50" stroke="#000" stroke-width="0.95"/>
<path d="M303.80,218.50 L306.40,213.90 L309.00,218.50" fill="none" stroke="#000" stroke-width="1.0" stroke-linejoin="miter"/>
<path d="M305.20,216.00 L306.40,213.40 L307.60,216.00 Z" fill="#000"/>
<line x1="302.40" y1="229.50" x2="306.40" y2="229.50" stroke="#000" stroke-width="0.8"/>
<text x="307.04" y="247.20" font-family='"Liberation Serif", serif' font-size="6.6" font-weight="bold" text-anchor="start" fill="#000" transform="rotate(-90 307.04 247.20)">2CDA</text>
<text x="307.04" y="259.80" font-family='"Liberation Serif", serif' font-size="6.6" font-weight="bold" text-anchor="start" fill="#000" transform="rotate(-90 307.04 259.80)">C1</text>
<line x1="387.00" y1="214.20" x2="387.00" y2="228.60" stroke="#000" stroke-width="0.95"/>
<path d="M384.40,218.30 L387.00,213.70 L389.60,218.30" fill="none" stroke="#000" stroke-width="1.0" stroke-linejoin="miter"/>
<path d="M385.80,215.80 L387.00,213.20 L388.20,215.80 Z" fill="#000"/>
<text x="388.88" y="254.40" font-family='"Liberation Serif", serif' font-size="6.4" font-weight="bold" text-anchor="start" fill="#000" transform="rotate(-90 388.88 254.40)">HYDREA</text>
<line x1="396.00" y1="214.20" x2="396.00" y2="229.50" stroke="#000" stroke-width="0.95"/>
<path d="M393.40,218.30 L396.00,213.70 L398.60,218.30" fill="none" stroke="#000" stroke-width="1.0" stroke-linejoin="miter"/>
<path d="M394.80,215.80 L396.00,213.20 L397.20,215.80 Z" fill="#000"/>
<text x="397.58" y="245.00" font-family='"Liberation Serif", serif' font-size="6.4" font-weight="bold" text-anchor="start" fill="#000" transform="rotate(-90 397.58 245.00)">2CDA</text>
<text x="397.58" y="257.10" font-family='"Liberation Serif", serif' font-size="6.4" font-weight="bold" text-anchor="start" fill="#000" transform="rotate(-90 397.58 257.10)">C2</text>
<line x1="404.30" y1="214.20" x2="404.30" y2="235.50" stroke="#000" stroke-width="0.95"/>
<path d="M401.70,218.30 L404.30,213.70 L406.90,218.30" fill="none" stroke="#000" stroke-width="1.0" stroke-linejoin="miter"/>
<path d="M403.10,215.80 L404.30,213.20 L405.50,215.80 Z" fill="#000"/>
<text x="406.18" y="256.40" font-family='"Liberation Serif", serif' font-size="6.4" font-weight="bold" text-anchor="start" fill="#000" transform="rotate(-90 406.18 256.40)">ZENAP</text>
<line x1="413.50" y1="214.20" x2="413.50" y2="229.50" stroke="#000" stroke-width="0.95"/>
<path d="M410.90,218.30 L413.50,213.70 L416.10,218.30" fill="none" stroke="#000" stroke-width="1.0" stroke-linejoin="miter"/>
<path d="M412.30,215.80 L413.50,213.20 L414.70,215.80 Z" fill="#000"/>
<text x="415.58" y="241.60" font-family='"Liberation Serif", serif' font-size="6.4" font-weight="bold" text-anchor="start" fill="#000" transform="rotate(-90 415.58 241.60)">INF</text>
<text x="415.58" y="257.10" font-family='"Liberation Serif", serif' font-size="6.4" font-weight="bold" text-anchor="start" fill="#000" transform="rotate(-90 415.58 257.10)">AX</text>
<line x1="463.70" y1="214.80" x2="463.70" y2="228.20" stroke="#000" stroke-width="0.95"/>
<path d="M461.10,218.90 L463.70,214.30 L466.30,218.90" fill="none" stroke="#000" stroke-width="1.0" stroke-linejoin="miter"/>
<path d="M462.50,216.40 L463.70,213.80 L464.90,216.40 Z" fill="#000"/>
<text x="464.48" y="266.80" font-family='"Liberation Serif", serif' font-size="7.0" font-weight="bold" text-anchor="start" fill="#000" transform="rotate(-90 464.48 266.80)">RAPAMYCI</text>
<line x1="483.00" y1="214.80" x2="483.00" y2="229.20" stroke="#000" stroke-width="0.95"/>
<path d="M480.40,218.90 L483.00,214.30 L485.60,218.90" fill="none" stroke="#000" stroke-width="1.0" stroke-linejoin="miter"/>
<path d="M481.80,216.40 L483.00,213.80 L484.20,216.40 Z" fill="#000"/>
<text x="484.51" y="266.60" font-family='"Liberation Serif", serif' font-size="6.5" font-weight="bold" text-anchor="start" fill="#000" transform="rotate(-90 484.51 266.60)">CORTICOID</text>
<text x="493.11" y="267.00" font-family='"Liberation Serif", serif' font-size="6.5" font-weight="bold" text-anchor="start" fill="#000" transform="rotate(-90 493.11 267.00)">S</text>
<circle cx="325.50" cy="229.00" r="1.15" fill="#000"/>
<circle cx="383.40" cy="229.30" r="1.15" fill="#000"/>
<circle cx="410.90" cy="229.30" r="1.15" fill="#000"/>
<circle cx="458.30" cy="228.60" r="1.15" fill="#000"/>
<text x="243.60" y="277.10" font-family='"Liberation Sans", sans-serif' font-size="11" font-weight="bold" text-anchor="start" fill="#000">E</text>
<line x1="293.90" y1="265.00" x2="293.90" y2="310.00" stroke="#666" stroke-width="0.8"/>
<text x="292.90" y="308.20" font-family='"Liberation Serif", serif' font-size="4.4" font-weight="normal" text-anchor="start" fill="#333" transform="rotate(-90 292.90 308.20)" textLength="38" lengthAdjust="spacingAndGlyphs">0,5 1 1,5 2 2,5 3 3,5 4 4,5 5</text>
<text x="287.26" y="304.00" font-family='"Liberation Serif", serif' font-size="4.0" font-weight="normal" text-anchor="start" fill="#aaa" transform="rotate(-90 287.26 304.00)" textLength="30" lengthAdjust="spacingAndGlyphs">–1 –– 1– –– 1––</text>
<text x="277.07" y="300.00" font-family='"Liberation Serif", serif' font-size="6.1" font-weight="bold" text-anchor="start" fill="#000" transform="rotate(-90 277.07 300.00)">% of c-kit+ cells</text>
<line x1="293.90" y1="310.00" x2="437.80" y2="310.00" stroke="#111" stroke-width="0.9"/>
<rect x="301.10" y="297.60" width="6.20" height="12.40" fill="#a3a3a3" stroke="#000" stroke-width="1"/>
<text x="309.51" y="321.60" font-family='"Liberation Serif", serif' font-size="6.8" font-weight="normal" text-anchor="start" fill="#000" transform="rotate(-90 309.51 321.60)">0</text>
<rect x="322.00" y="270.40" width="6.20" height="39.60" fill="#a3a3a3" stroke="#000" stroke-width="1"/>
<text x="330.41" y="321.60" font-family='"Liberation Serif", serif' font-size="6.8" font-weight="normal" text-anchor="start" fill="#000" transform="rotate(-90 330.41 321.60)">37</text>
<rect x="342.90" y="288.20" width="6.20" height="21.80" fill="#a3a3a3" stroke="#000" stroke-width="1"/>
<text x="351.31" y="321.60" font-family='"Liberation Serif", serif' font-size="6.8" font-weight="normal" text-anchor="start" fill="#000" transform="rotate(-90 351.31 321.60)">73</text>
<rect x="363.80" y="306.90" width="6.20" height="3.10" fill="#a3a3a3" stroke="#000" stroke-width="1"/>
<text x="372.21" y="321.60" font-family='"Liberation Serif", serif' font-size="6.8" font-weight="normal" text-anchor="start" fill="#000" transform="rotate(-90 372.21 321.60)">105</text>
<rect x="384.70" y="292.80" width="6.20" height="17.20" fill="#a3a3a3" stroke="#000" stroke-width="1"/>
<text x="393.11" y="321.60" font-family='"Liberation Serif", serif' font-size="6.8" font-weight="normal" text-anchor="start" fill="#000" transform="rotate(-90 393.11 321.60)">124</text>
<rect x="405.60" y="301.50" width="6.20" height="8.50" fill="#a3a3a3" stroke="#000" stroke-width="1"/>
<text x="414.01" y="321.60" font-family='"Liberation Serif", serif' font-size="6.8" font-weight="normal" text-anchor="start" fill="#000" transform="rotate(-90 414.01 321.60)">168</text>
<rect x="426.50" y="308.70" width="6.20" height="1.30" fill="#a3a3a3" stroke="#000" stroke-width="1"/>
<text x="434.91" y="321.60" font-family='"Liberation Serif", serif' font-size="6.8" font-weight="normal" text-anchor="start" fill="#000" transform="rotate(-90 434.91 321.60)">568</text>
<line x1="314.70" y1="310.00" x2="314.70" y2="311.50" stroke="#111" stroke-width="0.7"/>
<line x1="335.60" y1="310.00" x2="335.60" y2="311.50" stroke="#111" stroke-width="0.7"/>
<line x1="356.50" y1="310.00" x2="356.50" y2="311.50" stroke="#111" stroke-width="0.7"/>
<line x1="377.40" y1="310.00" x2="377.40" y2="311.50" stroke="#111" stroke-width="0.7"/>
<line x1="398.30" y1="310.00" x2="398.30" y2="311.50" stroke="#111" stroke-width="0.7"/>
<line x1="419.20" y1="310.00" x2="419.20" y2="311.50" stroke="#111" stroke-width="0.7"/>
<text x="448.00" y="312.60" font-family='"Liberation Serif", serif' font-size="6.8" font-weight="bold" text-anchor="start" fill="#000">Time (days)</text>
<text x="482.20" y="286.10" font-family='"Liberation Sans", sans-serif' font-size="6.6" font-weight="bold" text-anchor="start" fill="#000">*: Relapse</text>
<rect x="265.50" y="324.50" width="14.40" height="50.20" fill="#fff" stroke="#222" stroke-width="0.8"/>
<text x="274.64" y="368.10" font-family='"Liberation Serif", serif' font-size="6.6" font-weight="bold" text-anchor="start" fill="#000" transform="rotate(-90 274.64 368.10)">TREATMEN</text>
<text x="283.64" y="369.20" font-family='"Liberation Serif", serif' font-size="6.6" font-weight="bold" text-anchor="start" fill="#000" transform="rotate(-90 283.64 369.20)">T</text>
<line x1="329.00" y1="326.00" x2="329.00" y2="343.00" stroke="#000" stroke-width="0.95"/>
<path d="M326.40,330.10 L329.00,325.50 L331.60,330.10" fill="none" stroke="#000" stroke-width="1.0" stroke-linejoin="miter"/>
<path d="M327.80,327.60 L329.00,325.00 L330.20,327.60 Z" fill="#000"/>
<text x="330.58" y="360.80" font-family='"Liberation Serif", serif' font-size="7.0" font-weight="bold" text-anchor="start" fill="#000" transform="rotate(-90 330.58 360.80)">2CDA</text>
<text x="330.58" y="375.60" font-family='"Liberation Serif", serif' font-size="7.0" font-weight="bold" text-anchor="start" fill="#000" transform="rotate(-90 330.58 375.60)">C1</text>
<circle cx="319.30" cy="337.90" r="1.15" fill="#000"/>
<line x1="392.10" y1="326.00" x2="392.10" y2="343.00" stroke="#000" stroke-width="0.95"/>
<path d="M389.50,330.10 L392.10,325.50 L394.70,330.10" fill="none" stroke="#000" stroke-width="1.0" stroke-linejoin="miter"/>
<path d="M390.90,327.60 L392.10,325.00 L393.30,327.60 Z" fill="#000"/>
<text x="393.68" y="360.80" font-family='"Liberation Serif", serif' font-size="7.0" font-weight="bold" text-anchor="start" fill="#000" transform="rotate(-90 393.68 360.80)">2CDA</text>
<text x="393.68" y="375.60" font-family='"Liberation Serif", serif' font-size="7.0" font-weight="bold" text-anchor="start" fill="#000" transform="rotate(-90 393.68 375.60)">C2</text>
<circle cx="382.60" cy="337.90" r="1.15" fill="#000"/>
<line x1="411.20" y1="326.00" x2="411.20" y2="343.00" stroke="#000" stroke-width="0.95"/>
<path d="M408.60,330.10 L411.20,325.50 L413.80,330.10" fill="none" stroke="#000" stroke-width="1.0" stroke-linejoin="miter"/>
<path d="M410.00,327.60 L411.20,325.00 L412.40,327.60 Z" fill="#000"/>
<text x="412.78" y="360.80" font-family='"Liberation Serif", serif' font-size="7.0" font-weight="bold" text-anchor="start" fill="#000" transform="rotate(-90 412.78 360.80)">2CDA</text>
<text x="412.78" y="375.60" font-family='"Liberation Serif", serif' font-size="7.0" font-weight="bold" text-anchor="start" fill="#000" transform="rotate(-90 412.78 375.60)">C3</text>
<circle cx="403.90" cy="337.90" r="1.15" fill="#000"/>
<line x1="429.80" y1="326.00" x2="429.80" y2="343.00" stroke="#000" stroke-width="0.95"/>
<path d="M427.20,330.10 L429.80,325.50 L432.40,330.10" fill="none" stroke="#000" stroke-width="1.0" stroke-linejoin="miter"/>
<path d="M428.60,327.60 L429.80,325.00 L431.00,327.60 Z" fill="#000"/>
<text x="431.38" y="360.80" font-family='"Liberation Serif", serif' font-size="7.0" font-weight="bold" text-anchor="start" fill="#000" transform="rotate(-90 431.38 360.80)">2CDA</text>
<text x="431.38" y="375.60" font-family='"Liberation Serif", serif' font-size="7.0" font-weight="bold" text-anchor="start" fill="#000" transform="rotate(-90 431.38 375.60)">C4</text>
<circle cx="420.80" cy="337.90" r="1.15" fill="#000"/>
</svg>
</body></html>
